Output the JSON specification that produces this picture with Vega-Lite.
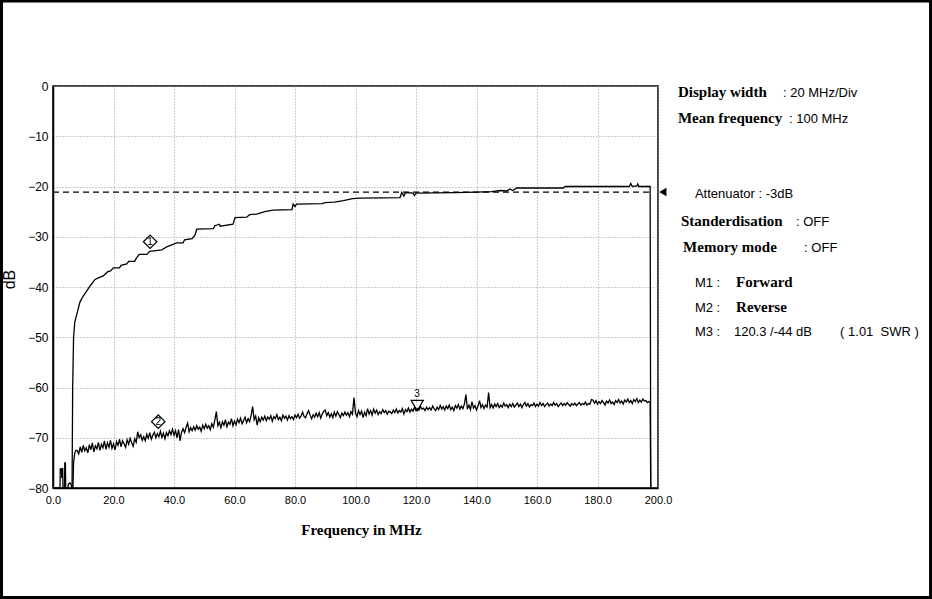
{
"$schema": "https://vega.github.io/schema/vega-lite/v6.json",
"width": 605,
"height": 402,
"autosize": {"type": "none"},
"padding": {"left": 53, "top": 86, "right": 274, "bottom": 111},
"background": "white",
"config": {
  "view": {"stroke": "#000", "strokeWidth": 1.5},
  "axis": {"labelFont": "Liberation Sans", "labelColor": "#000", "labelFlush": false, "labelOverlap": false, "domainColor": "#000", "domainWidth": 1.5, "grid": true, "gridColor": "#9a9a9a", "gridDash": [1, 2], "gridWidth": 1, "ticks": false}
},
"datasets": {
  "fwd": [
    {"f":6.3,"v":-80},{"f":6.5,"v":-60},{"f":6.8,"v":-50},{"f":7.2,"v":-47},{"f":7.8,"v":-45.6},{"f":8.9,"v":-43},{"f":10,"v":-41.8},{"f":11.1,"v":-40.8},{"f":12.5,"v":-39.6},{"f":13.9,"v":-38.5},{"f":15,"v":-38.2},{"f":16.6,"v":-37.8},{"f":18,"v":-37},{"f":19,"v":-36.8},{"f":20,"v":-36.2},{"f":22,"v":-36.2},{"f":22.5,"v":-35.7},{"f":24.4,"v":-35.4},{"f":25,"v":-34.9},{"f":27,"v":-34.9},{"f":27.5,"v":-34.3},{"f":28.5,"v":-33.5},{"f":31,"v":-33.5},{"f":32,"v":-32.9},{"f":36,"v":-32.6},{"f":37.6,"v":-32},{"f":40.9,"v":-31.2},{"f":43,"v":-31.2},{"f":43.5,"v":-30.6},{"f":46,"v":-30.4},{"f":47,"v":-29.6},{"f":47.5,"v":-28.5},{"f":53,"v":-28.4},{"f":53.5,"v":-27.8},{"f":55,"v":-27.5},{"f":55.3,"v":-27.9},{"f":59.5,"v":-27.5},{"f":60.2,"v":-26.2},{"f":64,"v":-26.1},{"f":65,"v":-25.6},{"f":67.3,"v":-25.5},{"f":70,"v":-25},{"f":72.8,"v":-24.7},{"f":79,"v":-24.6},{"f":79.4,"v":-23.5},{"f":80,"v":-24},{"f":80.5,"v":-23.5},{"f":89,"v":-23.4},{"f":90,"v":-23.2},{"f":93,"v":-23.1},{"f":96,"v":-22.8},{"f":99,"v":-22.4},{"f":101.5,"v":-22.3},{"f":114.7,"v":-22.2},{"f":115.3,"v":-21.2},{"f":116,"v":-21.9},{"f":116.5,"v":-21.2},{"f":119,"v":-21.3},{"f":119.5,"v":-21.8},{"f":120,"v":-21.3},{"f":133,"v":-21.2},{"f":140,"v":-21.1},{"f":145,"v":-21.0},{"f":147.8,"v":-20.8},{"f":150,"v":-20.9},{"f":151,"v":-20.5},{"f":152,"v":-20.8},{"f":153.3,"v":-20.3},{"f":155.4,"v":-20.3},{"f":168.7,"v":-20.3},{"f":169.3,"v":-20.0},{"f":190.5,"v":-20.0},{"f":191,"v":-19.4},{"f":191.5,"v":-20.0},{"f":193,"v":-19.9},{"f":193.3,"v":-19.5},{"f":193.6,"v":-20.0},{"f":197.4,"v":-20.0},{"f":197.6,"v":-80}
  ],
  "rev": [
    {"f":0,"v":-80},{"f":2.3,"v":-80},{"f":2.4,"v":-76.2},{"f":2.8,"v":-76.2},{"f":2.9,"v":-78},{"f":3.2,"v":-76},{"f":3.3,"v":-80},{"f":3.8,"v":-80},{"f":3.9,"v":-75},{"f":4.1,"v":-75},{"f":4.2,"v":-80},{"f":4.9,"v":-80},{"f":5.1,"v":-79.2},{"f":5.6,"v":-79},{"f":6.0,"v":-79.3},{"f":6.2,"v":-80},{"f":6.6,"v":-80},{"f":6.8,"v":-75},{"f":7.2,"v":-73},{"f":7.6,"v":-72.5},
    {"f":8.0,"v":-72.5},{"f":8.5,"v":-73.2},{"f":9.0,"v":-71.8},{"f":9.5,"v":-72.9},{"f":10.0,"v":-71.5},{"f":10.5,"v":-72.6},{"f":11.0,"v":-72.0},{"f":11.5,"v":-73.0},{"f":12.0,"v":-71.4},{"f":12.5,"v":-72.4},{"f":13.0,"v":-71.0},{"f":13.5,"v":-72.8},{"f":14.0,"v":-71.6},{"f":14.5,"v":-72.2},{"f":15.0,"v":-70.9},{"f":15.5,"v":-72.5},{"f":16.0,"v":-71.3},{"f":16.5,"v":-72.0},{"f":17.0,"v":-70.6},{"f":17.5,"v":-72.3},{"f":18.0,"v":-71.0},{"f":18.5,"v":-71.9},{"f":19.0,"v":-70.5},{"f":19.5,"v":-72.1},{"f":20.0,"v":-71.2},{"f":20.5,"v":-72.4},{"f":21.0,"v":-70.8},{"f":21.5,"v":-71.5},{"f":22.0,"v":-70.3},{"f":22.5,"v":-71.8},{"f":23.0,"v":-70.6},{"f":23.5,"v":-71.2},{"f":24.0,"v":-71.9},{"f":24.5,"v":-70.4},{"f":25.0,"v":-71.3},{"f":25.5,"v":-70.1},{"f":26.0,"v":-71.0},{"f":26.5,"v":-71.7},{"f":27.0,"v":-70.2},{"f":27.5,"v":-70.9},{"f":28.0,"v":-68.8},{"f":28.5,"v":-70.0},{"f":29.0,"v":-69.4},{"f":29.5,"v":-70.5},{"f":30.0,"v":-69.8},{"f":30.5,"v":-70.6},{"f":31.0,"v":-69.3},{"f":31.5,"v":-70.1},{"f":32.0,"v":-69.0},{"f":32.5,"v":-70.3},{"f":33.0,"v":-69.5},{"f":33.5,"v":-68.9},{"f":34.0,"v":-70.0},{"f":34.5,"v":-69.2},{"f":35.0,"v":-69.8},{"f":35.5,"v":-68.7},{"f":36.0,"v":-69.9},{"f":36.5,"v":-69.1},{"f":37.0,"v":-70.2},{"f":37.5,"v":-69.0},{"f":38.0,"v":-69.6},{"f":38.5,"v":-68.6},{"f":39.0,"v":-69.4},{"f":39.5,"v":-68.3},{"f":40.0,"v":-69.5},{"f":40.5,"v":-68.6},{"f":41.0,"v":-70.0},{"f":41.5,"v":-68.4},{"f":42.0,"v":-70.6},{"f":42.5,"v":-68.9},{"f":43.0,"v":-68.2},{"f":43.5,"v":-69.0},{"f":44.0,"v":-67.9},{"f":44.5,"v":-67.1},{"f":45.0,"v":-68.8},{"f":45.5,"v":-68.0},{"f":46.0,"v":-68.6},{"f":46.5,"v":-67.8},{"f":47.0,"v":-68.5},{"f":47.5,"v":-67.6},{"f":48.0,"v":-68.3},{"f":48.5,"v":-67.9},{"f":49.0,"v":-68.7},{"f":49.5,"v":-67.5},{"f":50.0,"v":-68.2},{"f":50.5,"v":-67.3},{"f":51.0,"v":-68.1},{"f":51.5,"v":-67.6},{"f":52.0,"v":-68.4},{"f":52.5,"v":-67.2},{"f":53.0,"v":-67.9},{"f":53.5,"v":-66.5},{"f":54.0,"v":-64.8},{"f":54.5,"v":-67.6},{"f":55.0,"v":-66.9},{"f":55.5,"v":-68.0},{"f":56.0,"v":-66.8},{"f":56.5,"v":-67.5},{"f":57.0,"v":-66.4},{"f":57.5,"v":-67.8},{"f":58.0,"v":-66.9},{"f":58.5,"v":-67.3},{"f":59.0,"v":-66.2},{"f":59.5,"v":-67.6},{"f":60.0,"v":-66.7},{"f":60.5,"v":-67.4},{"f":61.0,"v":-66.3},{"f":61.5,"v":-67.0},{"f":62.0,"v":-66.1},{"f":62.5,"v":-67.2},{"f":63.0,"v":-66.6},{"f":63.5,"v":-65.9},{"f":64.0,"v":-67.0},{"f":64.5,"v":-66.2},{"f":65.0,"v":-66.8},{"f":65.5,"v":-65.5},{"f":66.0,"v":-63.8},{"f":66.5,"v":-66.4},{"f":67.0,"v":-65.7},{"f":67.5,"v":-67.5},{"f":68.0,"v":-66.0},{"f":68.5,"v":-66.8},{"f":69.0,"v":-65.9},{"f":69.5,"v":-66.5},{"f":70.0,"v":-65.7},{"f":70.5,"v":-66.6},{"f":71.0,"v":-65.9},{"f":71.5,"v":-66.3},{"f":72.0,"v":-65.6},{"f":72.5,"v":-66.7},{"f":73.0,"v":-65.8},{"f":73.5,"v":-66.2},{"f":74.0,"v":-65.4},{"f":74.5,"v":-66.4},{"f":75.0,"v":-65.9},{"f":75.5,"v":-66.6},{"f":76.0,"v":-65.5},{"f":76.5,"v":-66.1},{"f":77.0,"v":-65.7},{"f":77.5,"v":-66.5},{"f":78.0,"v":-65.6},{"f":78.5,"v":-66.2},{"f":79.0,"v":-65.8},{"f":79.5,"v":-66.4},{"f":80.0,"v":-65.5},{"f":80.5,"v":-66.0},{"f":81.0,"v":-65.3},{"f":81.5,"v":-66.1},{"f":82.0,"v":-65.7},{"f":82.5,"v":-64.9},{"f":83.0,"v":-65.8},{"f":83.5,"v":-66.0},{"f":84.0,"v":-65.2},{"f":84.5,"v":-64.6},{"f":85.0,"v":-65.5},{"f":85.5,"v":-66.2},{"f":86.0,"v":-65.4},{"f":86.5,"v":-65.9},{"f":87.0,"v":-65.1},{"f":87.5,"v":-65.8},{"f":88.0,"v":-65.0},{"f":88.5,"v":-66.1},{"f":89.0,"v":-65.3},{"f":89.5,"v":-64.7},{"f":90.0,"v":-64.5},{"f":90.5,"v":-65.6},{"f":91.0,"v":-65.0},{"f":91.5,"v":-65.9},{"f":92.0,"v":-65.2},{"f":92.5,"v":-66.0},{"f":93.0,"v":-64.9},{"f":93.5,"v":-65.7},{"f":94.0,"v":-64.8},{"f":94.5,"v":-65.4},{"f":95.0,"v":-66.0},{"f":95.5,"v":-65.1},{"f":96.0,"v":-65.6},{"f":96.5,"v":-64.9},{"f":97.0,"v":-65.5},{"f":97.5,"v":-65.0},{"f":98.0,"v":-65.8},{"f":98.5,"v":-64.8},{"f":99.0,"v":-65.3},{"f":99.5,"v":-62.0},{"f":100.0,"v":-65.1},{"f":100.5,"v":-65.8},{"f":101.0,"v":-64.6},{"f":101.5,"v":-65.4},{"f":102.0,"v":-64.7},{"f":102.5,"v":-66.0},{"f":103.0,"v":-64.9},{"f":103.5,"v":-65.6},{"f":104.0,"v":-64.2},{"f":104.5,"v":-65.3},{"f":105.0,"v":-64.6},{"f":105.5,"v":-65.5},{"f":106.0,"v":-64.3},{"f":106.5,"v":-65.1},{"f":107.0,"v":-64.5},{"f":107.5,"v":-65.4},{"f":108.0,"v":-64.8},{"f":108.5,"v":-65.2},{"f":109.0,"v":-64.4},{"f":109.5,"v":-65.0},{"f":110.0,"v":-64.6},{"f":110.5,"v":-65.3},{"f":111.0,"v":-64.7},{"f":111.5,"v":-64.9},{"f":112.0,"v":-65.2},{"f":112.5,"v":-64.5},{"f":113.0,"v":-65.0},{"f":113.5,"v":-64.3},{"f":114.0,"v":-65.1},{"f":114.5,"v":-64.6},{"f":115.0,"v":-64.9},{"f":115.5,"v":-64.2},{"f":116.0,"v":-65.3},{"f":116.5,"v":-64.4},{"f":117.0,"v":-64.8},{"f":117.5,"v":-64.1},{"f":118.0,"v":-64.9},{"f":118.5,"v":-64.3},{"f":119.0,"v":-64.7},{"f":119.5,"v":-64.0},{"f":120.0,"v":-64.6},{"f":120.5,"v":-64.2},{"f":121.0,"v":-64.5},{"f":121.5,"v":-63.8},{"f":122.0,"v":-64.3},{"f":122.5,"v":-64.1},{"f":123.0,"v":-64.6},{"f":123.5,"v":-63.9},{"f":124.0,"v":-64.4},{"f":124.5,"v":-64.0},{"f":125.0,"v":-64.5},{"f":125.5,"v":-63.7},{"f":126.0,"v":-64.2},{"f":126.5,"v":-64.6},{"f":127.0,"v":-63.9},{"f":127.5,"v":-64.4},{"f":128.0,"v":-63.6},{"f":128.5,"v":-64.3},{"f":129.0,"v":-63.8},{"f":129.5,"v":-64.5},{"f":130.0,"v":-63.7},{"f":130.5,"v":-64.2},{"f":131.0,"v":-63.5},{"f":131.5,"v":-64.4},{"f":132.0,"v":-63.9},{"f":132.5,"v":-64.6},{"f":133.0,"v":-63.6},{"f":133.5,"v":-64.1},{"f":134.0,"v":-63.4},{"f":134.5,"v":-64.3},{"f":135.0,"v":-63.7},{"f":135.5,"v":-64.2},{"f":136.0,"v":-63.3},{"f":136.5,"v":-61.4},{"f":137.0,"v":-64.3},{"f":137.5,"v":-63.5},{"f":138.0,"v":-64.4},{"f":138.5,"v":-62.8},{"f":139.0,"v":-64.1},{"f":139.5,"v":-63.6},{"f":140.0,"v":-64.5},{"f":140.5,"v":-63.7},{"f":141.0,"v":-62.6},{"f":141.5,"v":-64.0},{"f":142.0,"v":-63.4},{"f":142.5,"v":-64.2},{"f":143.0,"v":-63.5},{"f":143.5,"v":-63.9},{"f":144.0,"v":-61.0},{"f":144.5,"v":-64.0},{"f":145.0,"v":-63.4},{"f":145.5,"v":-64.1},{"f":146.0,"v":-63.3},{"f":146.5,"v":-63.8},{"f":147.0,"v":-63.2},{"f":147.5,"v":-64.0},{"f":148.0,"v":-63.5},{"f":148.5,"v":-63.9},{"f":149.0,"v":-63.1},{"f":149.5,"v":-63.7},{"f":150.0,"v":-63.4},{"f":150.5,"v":-64.0},{"f":151.0,"v":-63.3},{"f":151.5,"v":-63.8},{"f":152.0,"v":-63.2},{"f":152.5,"v":-63.9},{"f":153.0,"v":-63.5},{"f":153.5,"v":-63.1},{"f":154.0,"v":-63.8},{"f":154.5,"v":-63.3},{"f":155.0,"v":-64.0},{"f":155.5,"v":-63.4},{"f":156.0,"v":-63.0},{"f":156.5,"v":-63.7},{"f":157.0,"v":-63.2},{"f":157.5,"v":-63.9},{"f":158.0,"v":-63.4},{"f":158.5,"v":-63.6},{"f":159.0,"v":-63.1},{"f":159.5,"v":-63.8},{"f":160.0,"v":-63.3},{"f":160.5,"v":-63.7},{"f":161.0,"v":-63.0},{"f":161.5,"v":-63.6},{"f":162.0,"v":-63.2},{"f":162.5,"v":-63.8},{"f":163.0,"v":-63.4},{"f":163.5,"v":-63.1},{"f":164.0,"v":-63.7},{"f":164.5,"v":-63.3},{"f":165.0,"v":-63.6},{"f":165.5,"v":-63.0},{"f":166.0,"v":-63.5},{"f":166.5,"v":-63.2},{"f":167.0,"v":-63.8},{"f":167.5,"v":-63.4},{"f":168.0,"v":-63.1},{"f":168.5,"v":-63.6},{"f":169.0,"v":-63.2},{"f":169.5,"v":-63.5},{"f":170.0,"v":-63.0},{"f":170.5,"v":-63.4},{"f":171.0,"v":-63.7},{"f":171.5,"v":-63.2},{"f":172.0,"v":-63.5},{"f":172.5,"v":-63.1},{"f":173.0,"v":-63.6},{"f":173.5,"v":-63.3},{"f":174.0,"v":-63.0},{"f":174.5,"v":-63.5},{"f":175.0,"v":-63.2},{"f":175.5,"v":-63.4},{"f":176.0,"v":-62.9},{"f":176.5,"v":-63.5},{"f":177.0,"v":-63.2},{"f":177.5,"v":-63.3},{"f":178.0,"v":-62.4},{"f":178.5,"v":-62.5},{"f":179.0,"v":-63.1},{"f":179.5,"v":-62.6},{"f":180.0,"v":-63.3},{"f":180.5,"v":-62.8},{"f":181.0,"v":-63.2},{"f":181.5,"v":-62.6},{"f":182.0,"v":-63.0},{"f":182.5,"v":-63.5},{"f":183.0,"v":-62.7},{"f":183.5,"v":-63.1},{"f":184.0,"v":-62.5},{"f":184.5,"v":-63.2},{"f":185.0,"v":-62.9},{"f":185.5,"v":-63.4},{"f":186.0,"v":-62.6},{"f":186.5,"v":-63.0},{"f":187.0,"v":-62.4},{"f":187.5,"v":-63.1},{"f":188.0,"v":-62.7},{"f":188.5,"v":-63.3},{"f":189.0,"v":-62.5},{"f":189.5,"v":-62.9},{"f":190.0,"v":-62.3},{"f":190.5,"v":-63.0},{"f":191.0,"v":-62.6},{"f":191.5,"v":-63.2},{"f":192.0,"v":-62.4},{"f":192.5,"v":-62.8},{"f":193.0,"v":-62.2},{"f":193.5,"v":-63.0},{"f":194.0,"v":-62.5},{"f":194.5,"v":-62.9},{"f":195.0,"v":-62.3},{"f":195.5,"v":-62.7},{"f":196.0,"v":-62.6},{"f":196.5,"v":-63.0},{"f":197.0,"v":-62.8},{"f":197.4,"v":-62.9},{"f":197.6,"v":-80}
  ],
  "serifText": [
    {"f":206.6,"v":-2.25,"label":"Display width"},
    {"f":206.6,"v":-7.42,"label":"Mean frequency"},
    {"f":207.6,"v":-27.8,"label":"Standerdisation"},
    {"f":208.3,"v":-32.98,"label":"Memory mode"},
    {"f":225.8,"v":-40.06,"label":"Forward"},
    {"f":225.8,"v":-44.9,"label":"Reverse"}
  ],
  "sansText": [
    {"f":241.3,"v":-2.25,"label":": 20 MHz/Div"},
    {"f":243.3,"v":-7.42,"label":": 100 MHz"},
    {"f":212.2,"v":-22.35,"label":"Attenuator : -3dB"},
    {"f":245.6,"v":-27.8,"label":": OFF"},
    {"f":248.3,"v":-32.98,"label":": OFF"},
    {"f":212.2,"v":-40.06,"label":"M1 :"},
    {"f":212.2,"v":-44.9,"label":"M2 :"},
    {"f":212.2,"v":-49.75,"label":"M3 :"},
    {"f":225.1,"v":-49.75,"label":"120.3 /-44 dB"},
    {"f":260.2,"v":-49.75,"label":"( 1.01\u00a0\u00a0SWR )"}
  ]
},
"encoding": {
  "x": {"field": "f", "type": "quantitative", "scale": {"domain": [0, 200], "nice": false, "zero": false},
    "axis": {"values": [0, 20, 40, 60, 80, 100, 120, 140, 160, 180, 200], "format": ".1f", "labelFontSize": 11, "labelPadding": 6,
      "title": "Frequency in MHz", "titleFont": "Liberation Serif", "titleFontWeight": "bold", "titleFontSize": 15, "titleColor": "#000",
      "titleX": 308, "titleY": 46, "titleBaseline": "alphabetic", "titleAlign": "center"}},
  "y": {"field": "v", "type": "quantitative", "scale": {"domain": [-80, 0], "nice": false, "zero": false},
    "axis": {"values": [-80, -70, -60, -50, -40, -30, -20, -10, 0], "labelFontSize": 12, "labelPadding": 5,
      "title": "dB", "titleFont": "Liberation Sans", "titleFontWeight": "normal", "titleFontSize": 16, "titleColor": "#000",
      "titleAngle": 270, "titleX": -44, "titleY": 193, "titleAlign": "center", "titleBaseline": "middle"}}
},
"layer": [
  {
    "data": {"values": [{"f": -17.02, "f2": 290.1, "v": 16.9, "v2": -101.8}]},
    "mark": {"type": "rect", "fill": null, "fillOpacity": 0, "stroke": "#000", "strokeWidth": 3, "clip": false},
    "encoding": {"x2": {"field": "f2"}, "y2": {"field": "v2"}}
  },
  {
    "data": {"name": "fwd"},
    "mark": {"type": "line", "color": "#000", "strokeWidth": 1.3, "interpolate": "linear"}
  },
  {
    "data": {"name": "rev"},
    "mark": {"type": "line", "color": "#000", "strokeWidth": 1.3, "interpolate": "linear"}
  },
  {
    "data": {"values": [{"f": 0, "f2": 197.4, "v": -21.1}]},
    "mark": {"type": "rule", "color": "#000", "strokeWidth": 1.3, "strokeDash": [6, 4]},
    "encoding": {"x2": {"field": "f2"}}
  },
  {
    "data": {"values": [{"f": 32.1, "v": -31.0}, {"f": 34.8, "v": -66.8}]},
    "mark": {"type": "point", "shape": "diamond", "size": 180, "filled": true, "fill": "white", "stroke": "#000", "strokeWidth": 1.2, "opacity": 1}
  },
  {
    "data": {"values": [{"f": 32.1, "v": -31.0, "m": "1"}, {"f": 34.8, "v": -66.8, "m": "2"}, {"f": 120.3, "v": -61.2, "m": "3"}]},
    "mark": {"type": "text", "font": "Liberation Sans", "fontSize": 10, "color": "#000", "align": "center", "baseline": "middle"},
    "encoding": {"text": {"field": "m"}}
  },
  {
    "data": {"values": [{"f": 120.4, "v": -63.6}]},
    "mark": {"type": "point", "shape": "triangle-down", "size": 150, "filled": false, "stroke": "#000", "strokeWidth": 1.2, "opacity": 1}
  },
  {
    "data": {"values": [{"f": 201.6, "v": -21.1}]},
    "mark": {"type": "point", "shape": "triangle-left", "size": 70, "filled": true, "color": "#000", "opacity": 1, "clip": false}
  },
  {
    "data": {"name": "serifText"},
    "mark": {"type": "text", "font": "Liberation Serif", "fontWeight": "bold", "fontSize": 15, "color": "#000", "align": "left", "baseline": "alphabetic", "clip": false},
    "encoding": {"text": {"field": "label"}}
  },
  {
    "data": {"name": "sansText"},
    "mark": {"type": "text", "font": "Liberation Sans", "fontSize": 13, "color": "#000", "align": "left", "baseline": "alphabetic", "clip": false},
    "encoding": {"text": {"field": "label"}}
  }
]
}
